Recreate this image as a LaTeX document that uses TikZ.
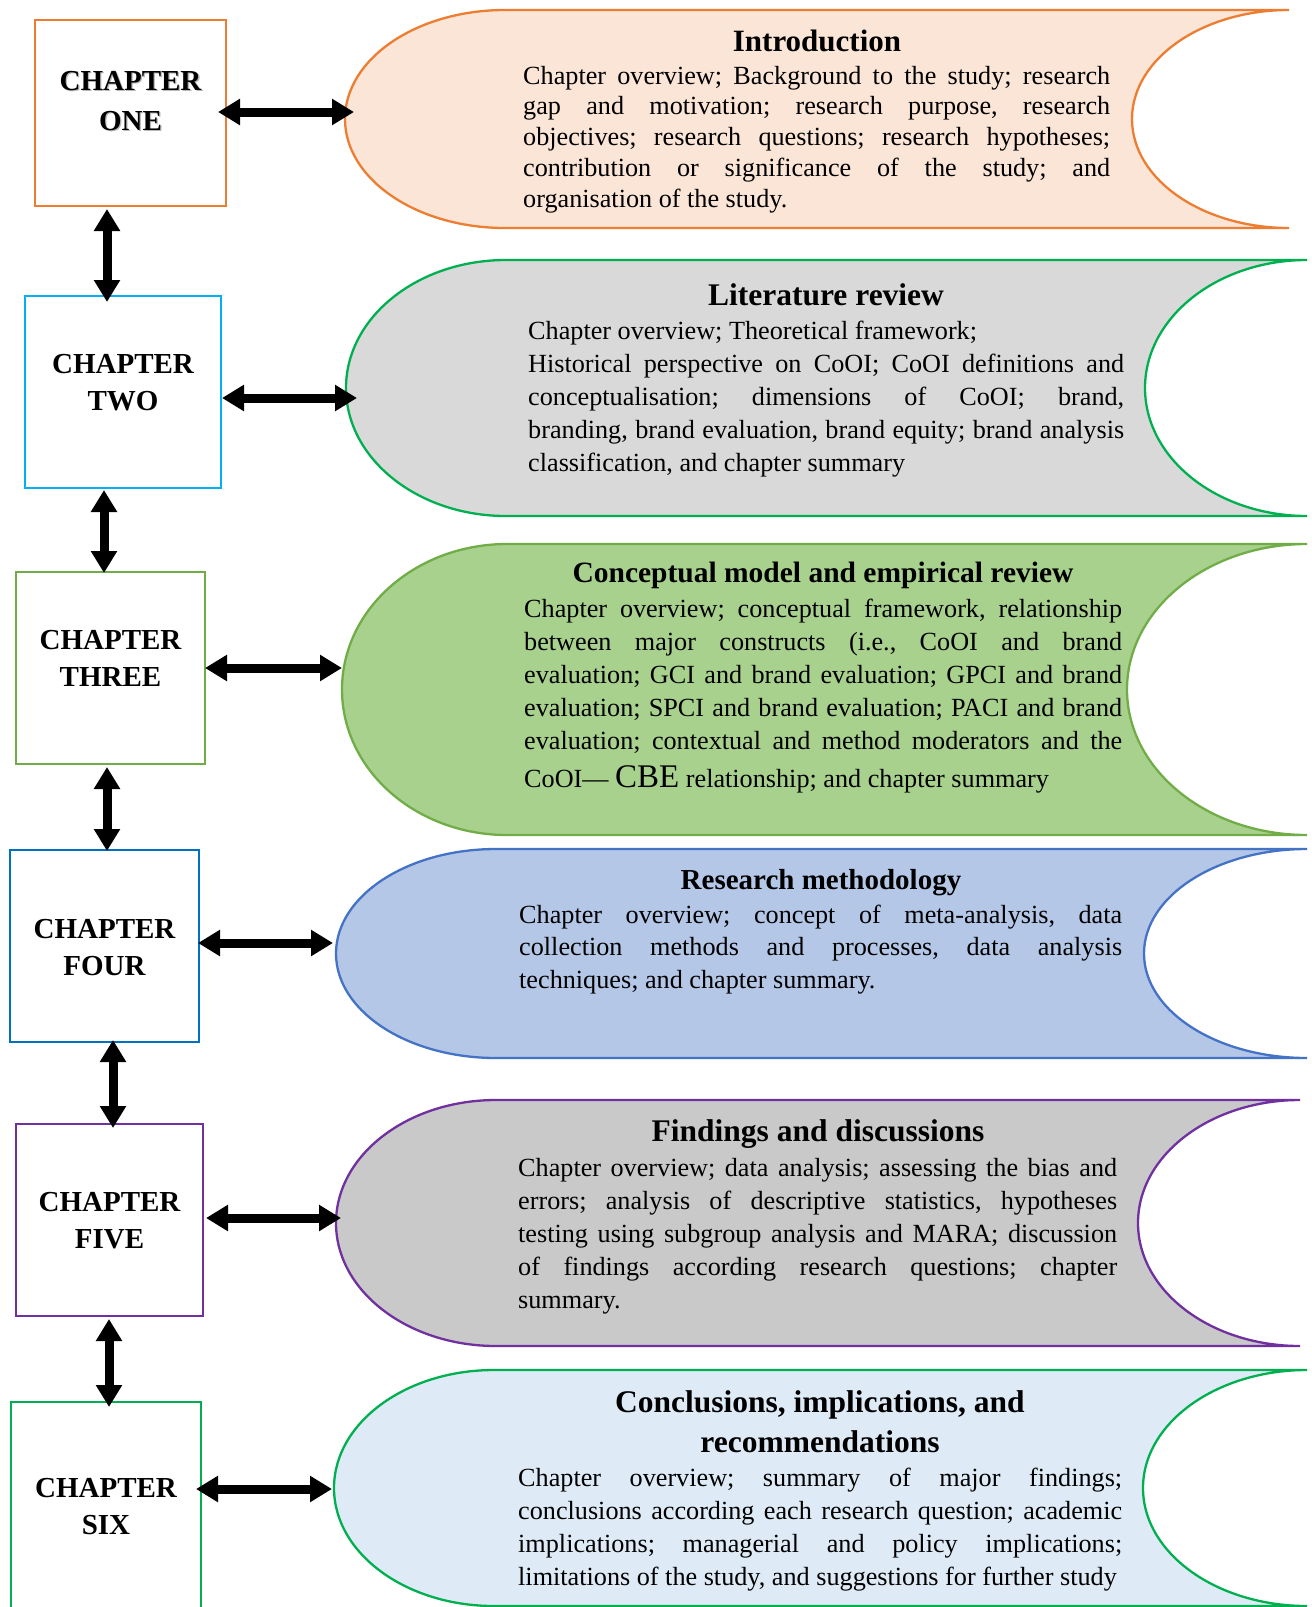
\documentclass[tikz,border=0pt]{standalone}
\usepackage{fontspec}
\setmainfont{Liberation Serif}
\usetikzlibrary{arrows.meta}
\frenchspacing

\definecolor{orng}{HTML}{ED7D31}
\definecolor{peach}{HTML}{FBE5D6}
\definecolor{grnA}{HTML}{00B050}
\definecolor{grayA}{HTML}{D9D9D9}
\definecolor{skyb}{HTML}{00B0F0}
\definecolor{olive}{HTML}{70AD47}
\definecolor{lgreen}{HTML}{A9D18E}
\definecolor{blueA}{HTML}{4472C4}
\definecolor{lblue}{HTML}{B4C7E7}
\definecolor{blueB}{HTML}{0070C0}
\definecolor{purp}{HTML}{7030A0}
\definecolor{grayB}{HTML}{C9C9C9}
\definecolor{pale}{HTML}{DEEBF7}

% #1 left x, #2 top y, #3 bottom y, #4 right x, #5 left radius, #6 inner radius, #7 style
\newcommand{\dispshape}[7]{%
  \pgfmathsetmacro\dsCy{(#2+#3)/2}%
  \pgfmathsetmacro\dsRy{(#3-#2)/2}%
  \pgfmathsetmacro\dsLx{#1+#5}%
  \pgfmathsetmacro\dsKa{0.5523*#5}%
  \pgfmathsetmacro\dsKb{0.5523*#6}%
  \pgfmathsetmacro\dsKr{0.5523*\dsRy}%
  \path[#7] (\dsLx,#2) -- (#4,#2)
    .. controls ({#4-\dsKb},#2) and ({#4-#6},{\dsCy-\dsKr}) .. ({#4-#6},\dsCy)
    .. controls ({#4-#6},{\dsCy+\dsKr}) and ({#4-\dsKb},#3) .. (#4,#3)
    -- (\dsLx,#3)
    .. controls ({\dsLx-\dsKa},#3) and (#1,{\dsCy+\dsKr}) .. (#1,\dsCy)
    .. controls (#1,{\dsCy-\dsKr}) and ({\dsLx-\dsKa},#2) .. (\dsLx,#2) -- cycle;
}

\begin{document}
\begin{tikzpicture}[x=1pt,y=-1pt,
  shapeline/.style={line width=2.3pt},
  chbox/.style={draw, line width=2.6pt, fill=white, inner sep=0pt, outer sep=0pt},
  chtext/.style={anchor=base, inner sep=0pt, font=\fontsize{29}{37}\selectfont\bfseries},
  ttl/.style={anchor=base, inner sep=0pt},
  body/.style={anchor=base west, inner sep=0pt},
  dbl/.style={line width=9pt, {Triangle[width=25pt,length=22pt]}-{Triangle[width=25pt,length=22pt]}}
]
\useasboundingbox (0,0) rectangle (1312,1607);
\clip (0,0) rectangle (1312,1607);
\fill[white] (0,0) rectangle (1312,1607);

% ---------- right-hand display shapes ----------
\dispshape{345}{10}{228}{1289}{160}{157}{shapeline, draw=orng, fill=peach}
\dispshape{346}{260}{516}{1307}{160}{162}{shapeline, draw=grnA, fill=grayA}
\dispshape{342}{544}{835}{1307}{165}{180}{shapeline, draw=olive, fill=lgreen}
\dispshape{336}{849}{1058}{1307}{160}{163}{shapeline, draw=blueA, fill=lblue}
\dispshape{336}{1100}{1346}{1300}{160}{162}{shapeline, draw=purp, fill=grayB}
\dispshape{334}{1370}{1606}{1307}{160}{164}{shapeline, draw=grnA, fill=pale}

% connector end points on the shapes
\coordinate (p1) at (354,112);
\coordinate (p2) at (357,398);
\coordinate (p3) at (342,668);
\coordinate (p4) at (333,943);
\coordinate (p5) at (341,1218);
\coordinate (p6) at (332,1489);

% ---------- titles ----------
\node[ttl, font=\fontsize{31}{31}\selectfont\bfseries] (h1) at (817,51) {Introduction};
\node[ttl, font=\fontsize{31.5}{31.5}\selectfont\bfseries] (h2) at (826,305) {Literature review};
\node[ttl, font=\fontsize{29.5}{29.5}\selectfont\bfseries] (h3) at (823,582) {Conceptual model and empirical review};
\node[ttl, font=\fontsize{29}{29}\selectfont\bfseries] (h4) at (821,889) {Research methodology};
\node[ttl, font=\fontsize{31.5}{31.5}\selectfont\bfseries] (h5) at (818,1141) {Findings and discussions};
\node[ttl, font=\fontsize{31.5}{40}\selectfont\bfseries] (h6) at (820,1412)
  {\parbox[t]{600pt}{\centering Conclusions, implications, and\\recommendations}};

% ---------- body texts ----------
\node[body] (x1) at (523,84) {\parbox[t]{587pt}{\fontsize{26.2}{30.75}\selectfont
  \tolerance=9999 \hbadness=10000 \hyphenpenalty=10000
  Chapter overview; Background to the study; research\linebreak
  gap and motivation; research purpose, research\linebreak
  objectives; research questions; research hypotheses;\linebreak
  contribution or significance of the study; and\linebreak
  organisation of the study.}};

\node[body] (x2) at (528,339) {\parbox[t]{596pt}{\fontsize{26.2}{33.2}\selectfont
  \tolerance=9999 \hbadness=10000 \hyphenpenalty=10000
  Chapter overview; Theoretical framework;\\
  Historical perspective on CoOI; CoOI definitions and\linebreak
  conceptualisation; dimensions of CoOI; brand,\linebreak
  branding, brand evaluation, brand equity; brand analysis\linebreak
  classification, and chapter summary}};

\node[body] (x3) at (524,617) {\parbox[t]{598pt}{\fontsize{26.2}{33}\selectfont
  \tolerance=9999 \hbadness=10000 \hyphenpenalty=10000
  {\parfillskip=0pt
  Chapter overview; conceptual framework, relationship\linebreak
  between major constructs (i.e., CoOI and brand\linebreak
  evaluation; GCI and brand evaluation; GPCI and brand\linebreak
  evaluation; SPCI and brand evaluation; PACI and brand\linebreak
  evaluation; contextual and method moderators and the\par}
  \vspace{5pt}
  CoOI— {\fontsize{33}{33}\selectfont CBE} relationship; and chapter summary}};

\node[body] (x4) at (519,923) {\parbox[t]{603pt}{\fontsize{26.2}{32.8}\selectfont
  \tolerance=9999 \hbadness=10000 \hyphenpenalty=10000
  Chapter overview; concept of meta-analysis, data\linebreak
  collection methods and processes, data analysis\linebreak
  techniques; and chapter summary.}};

\node[body] (x5) at (518,1176) {\parbox[t]{599pt}{\fontsize{26.2}{33}\selectfont
  \tolerance=9999 \hbadness=10000 \hyphenpenalty=10000
  Chapter overview; data analysis; assessing the bias and\linebreak
  errors; analysis of descriptive statistics, hypotheses\linebreak
  testing using subgroup analysis and MARA; discussion\linebreak
  of findings according research questions; chapter\linebreak
  summary.}};

\node[body] (x6) at (518,1486) {\parbox[t]{604pt}{\fontsize{26.2}{33.1}\selectfont
  \tolerance=9999 \hbadness=10000 \hyphenpenalty=10000
  Chapter overview; summary of major findings;\linebreak
  conclusions according each research question; academic\linebreak
  implications; managerial and policy implications;\linebreak
  limitations of the study, and suggestions for further study}};

% ---------- chapter boxes ----------
\node[chbox, draw=orng,  minimum width=191pt, minimum height=186pt] (c1) at (130.5,113) {};
\node[chbox, draw=skyb,  minimum width=196pt, minimum height=192pt] (c2) at (123,392) {};
\node[chbox, draw=olive, minimum width=189pt, minimum height=192pt] (c3) at (110.5,668) {};
\node[chbox, draw=blueB, minimum width=189pt, minimum height=192pt] (c4) at (104.5,946) {};
\node[chbox, draw=purp,  minimum width=187pt, minimum height=192pt] (c5) at (109.5,1220) {};
\node[chbox, draw=grnA,  minimum width=190pt, minimum height=238pt] (c6) at (106,1521) {};

\node[chtext, text=black!28, font=\fontsize{29}{40}\selectfont\bfseries] (t1s) at (131.8,91.8)
  {\parbox[t]{180pt}{\centering CHAPTER\\ONE}};
\node[chtext, font=\fontsize{29}{40}\selectfont\bfseries] (t1) at (130.5,90.5)
  {\parbox[t]{180pt}{\centering CHAPTER\\ONE}};
\node[chtext] (t2) at (123,373) {\parbox[t]{180pt}{\centering CHAPTER\\TWO}};
\node[chtext] (t3) at (110.5,649) {\parbox[t]{180pt}{\centering CHAPTER\\THREE}};
\node[chtext] (t4) at (104.5,938) {\parbox[t]{180pt}{\centering CHAPTER\\FOUR}};
\node[chtext] (t5) at (109.5,1211) {\parbox[t]{180pt}{\centering CHAPTER\\FIVE}};
\node[chtext] (t6) at (106,1497) {\parbox[t]{180pt}{\centering CHAPTER\\SIX}};

% ---------- connectors ----------
\draw[dbl] ([shift={(-8,-1)}]c1.east) -- (p1);
\draw[dbl] ([shift={(1,6)}]c2.east) -- (p2);
\draw[dbl] (c3.east) -- (p3);
\draw[dbl] ([shift={(-1,-3)}]c4.east) -- (p4);
\draw[dbl] ([shift={(3,-2)}]c5.east) -- (p5);
\draw[dbl] ([shift={(-5,-32)}]c6.east) -- (p6);

\draw[dbl] ([shift={(-23.5,3)}]c1.south) -- ([shift={(-16,6)}]c2.north);
\draw[dbl] ([shift={(-19,2)}]c2.south) -- ([shift={(-6.5,1)}]c3.north);
\draw[dbl] ([shift={(-3.5,3)}]c3.south) -- ([shift={(2.5,1)}]c4.north);
\draw[dbl] ([shift={(8.5,-2)}]c4.south) -- ([shift={(3.5,4)}]c5.north);
\draw[dbl] ([shift={(-0.5,3)}]c5.south) -- ([shift={(3,5)}]c6.north);
\end{tikzpicture}
\end{document}
